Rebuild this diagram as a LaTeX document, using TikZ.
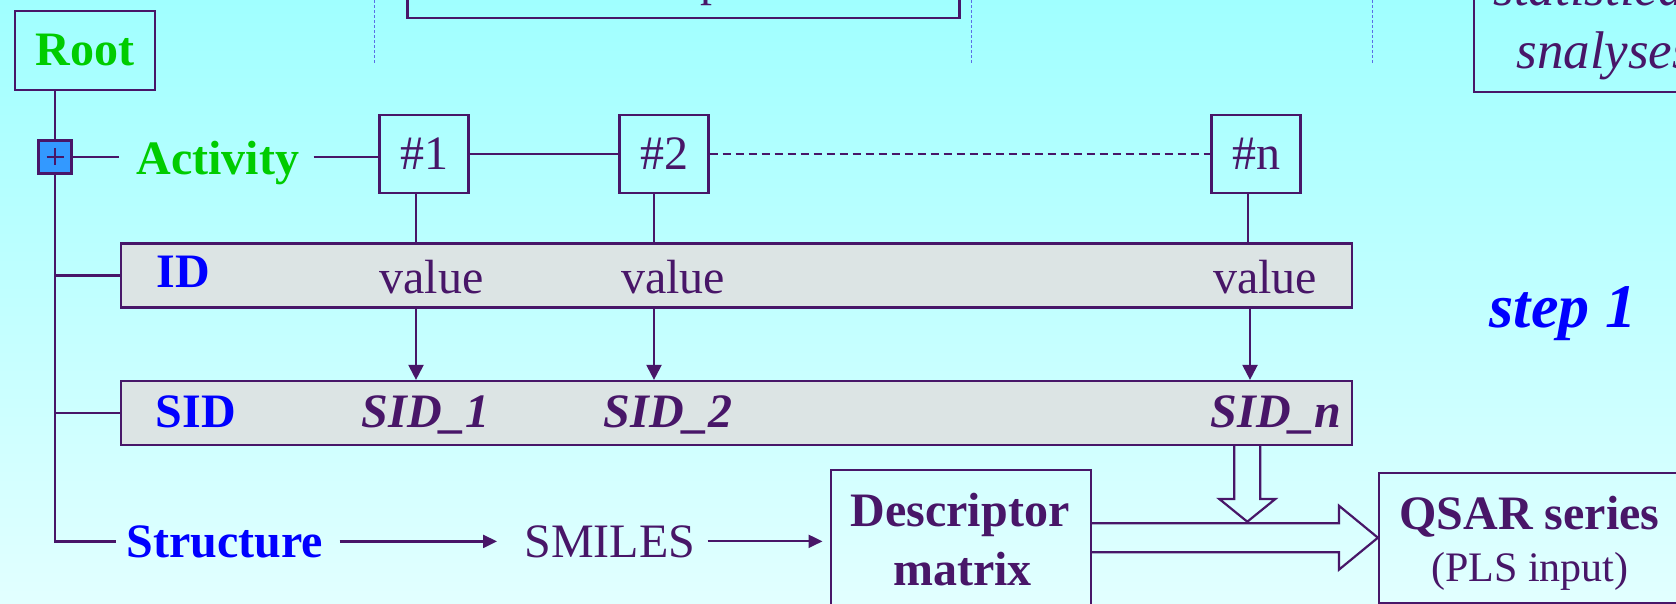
\documentclass[tikz,border=0pt]{standalone}
\usepackage{fontspec}
\setmainfont{Liberation Serif}
\usetikzlibrary{arrows.meta,calc}
\definecolor{lc}{RGB}{72,22,104}
\definecolor{grn}{RGB}{0,204,0}
\definecolor{blu}{RGB}{0,0,255}
\definecolor{barfill}{RGB}{220,228,228}
\definecolor{plusfill}{RGB}{51,153,255}
\definecolor{dotc}{RGB}{90,110,230}
\definecolor{bgtop}{RGB}{160,255,255}
\definecolor{bgbot}{RGB}{226,255,255}
\newcommand\fsz[1]{\fontsize{#1}{#1}\selectfont}
\tikzset{
  ln/.style={draw=lc, line width=1.1pt},
  box/.style={draw=lc, line width=1.1pt, inner sep=0pt},
  bar/.style={box, fill=barfill, minimum width=615.5pt, minimum height=32pt},
  numbox/.style={box, minimum width=44.5pt, minimum height=39pt, text=lc, font=\fsz{24}},
  lbl/.style={anchor=base, inner sep=0pt, font=\fsz{24}, text=lc},
  blbl/.style={lbl, font=\fsz{24}\bfseries},
  bilbl/.style={lbl, font=\fsz{24}\bfseries\itshape},
  arr/.style={ln, -{Triangle[width=7.5pt,length=7.5pt]}},
  sarr/.style={ln, -{Triangle[width=6.5pt,length=7pt]}},
  dotl/.style={draw=dotc, line width=0.5pt, dash pattern=on 1.5pt off 1pt},
  fat/.style={ln, line join=miter}
}
\begin{document}
\begin{tikzpicture}[x=0.5pt,y=-0.5pt]
\useasboundingbox (0,0) rectangle (1676,604);
\clip (0,0) rectangle (1676,604);
\shade[top color=bgtop, bottom color=bgbot] (0,0) rectangle (1676,604);

% partial elements at the top
\node[box, minimum width=276pt, minimum height=60pt] (topbox) at (683.5,-42.3) {};
\node[lbl, anchor=base west] (toptext) at (700,-4.4) {p};
\node[box, minimum width=150pt, minimum height=100pt] (rbox) at (1624,-8.3) {};
\node[lbl, anchor=base west, font=\fsz{26.5}\itshape] (stat) at (1493,6) {statistical};
\node[lbl, anchor=base west, font=\fsz{26.5}\itshape] (snal) at (1516,68.3) {snalyses};
\draw[dotl] (374,-5) -- (374,64);
\draw[dotl] (971,-5) -- (971,64);
\draw[dotl] (1372,-5) -- (1372,64);

% tree
\node[box, minimum width=70pt, minimum height=39.5pt, font=\fsz{24}\bfseries, text=grn] (root) at (85,50.5) {Root};
\node[box, fill=plusfill, minimum size=16.5pt] (plus) at (55,157) {};
\draw[lc, line width=0.8pt] ($(plus.center)+(-8.5,0)$) -- ($(plus.center)+(8.5,0)$);
\draw[lc, line width=0.8pt] ($(plus.center)+(0,-8.5)$) -- ($(plus.center)+(0,8.5)$);
\node[blbl, text=grn] (act) at (218,175) {Activity};
\node[numbox] (n1) at (424,154) {\#1};
\node[numbox] (n2) at (664,154) {\#2};
\node[numbox] (nn) at (1256,154) {\#n};

\node[bar] (idbar) at (736.5,275.5) {};
\node[bar] (sidbar) at (736.5,413) {};

\node[blbl, text=blu] (idlbl) at (183,288) {ID};
\node[lbl] (v1) at (431.5,293) {value};
\node[lbl] (v2) at (673,293) {value};
\node[lbl] (vn) at (1265,293) {value};

\node[blbl, text=blu] (sidlbl) at (196,427) {SID};
\node[bilbl] (s1) at (426,427) {SID\_1};
\node[bilbl] (s2) at (668,427) {SID\_2};
\node[bilbl] (sn) at (1276,427) {SID\_n};

\node[lbl, font=\fsz{31}\bfseries\itshape, text=blu] (step) at (1563,328) {step 1};

\node[blbl, text=blu] (struct) at (225,557) {Structure};
\node[lbl] (smiles) at (609.8,557) {SMILES};

\node[box, minimum width=130pt, minimum height=85pt] (desc) at (960.6,555) {};
\node[blbl] (dt1) at (960,526.7) {Descriptor};
\node[blbl] (dt2) at (962.6,585) {matrix};

\node[box, minimum width=170.5pt, minimum height=65pt] (qsar) at (1549.5,537.7) {};
\node[blbl] (qt1) at (1529.4,529.3) {QSAR series};
\node[lbl, font=\fsz{21}] (qt2) at (1530,581.7) {(PLS input)};

% connectors
\draw[ln] (plus.north |- root.south) -- (plus.north);
\draw[ln] (plus.south) -- (plus.south |- struct.west) -- ([xshift=-5pt]struct.west);
\draw[ln] (plus.south |- idbar.west) -- (idbar.west);
\draw[ln] (plus.south |- sidbar.west) -- (sidbar.west);
\draw[ln, shorten >=8.5pt] (plus.east) -- (plus.east -| act.west);
\draw[ln, shorten <=7pt] (act.east |- plus.east) -- (n1.west |- plus.east);
\draw[ln] (n1.east) -- (n2.west);
\draw[ln, dash pattern=on 4pt off 2.5pt] (n2.east) -- (nn.west);

\draw[ln] ([xshift=-4pt]n1.south) -- ([xshift=-4pt]n1.south |- idbar.north);
\draw[ln] ([xshift=-5pt]n2.south) -- ([xshift=-5pt]n2.south |- idbar.north);
\draw[ln] ([xshift=-4pt]nn.south) -- ([xshift=-4pt]nn.south |- idbar.north);
\draw[arr] ([xshift=-4pt]n1.south |- idbar.south) -- ([xshift=-4pt]n1.south |- sidbar.north);
\draw[arr] ([xshift=-5pt]n2.south |- idbar.south) -- ([xshift=-5pt]n2.south |- sidbar.north);
\draw[arr] ([xshift=-3pt]nn.south |- idbar.south) -- ([xshift=-3pt]nn.south |- sidbar.north);

\draw[sarr, shorten <=8pt, shorten >=13.5pt] (struct.east) -- (struct.east -| smiles.west);
\draw[sarr, shorten <=6pt, shorten >=3.5pt] (smiles.east) -- (smiles.east -| desc.west);

% fat arrows
\draw[fat] ($(desc.east |- qsar.west)+(0,-14.5)$) -- ($(qsar.west)+(-39,-14.5)$) -- ($(qsar.west)+(-39,-32)$)
  -- (qsar.west) -- ($(qsar.west)+(-39,32)$) -- ($(qsar.west)+(-39,14.5)$) -- ($(desc.east |- qsar.west)+(0,14.5)$);
\coordinate (dtip) at (1247.3,521.7);
\draw[fat] ($(sidbar.south -| dtip)+(-13,0)$) -- ($(dtip)+(-13,-22.7)$) -- ($(dtip)+(-28,-22.7)$)
  -- (dtip) -- ($(dtip)+(28,-22.7)$) -- ($(dtip)+(13,-22.7)$) -- ($(sidbar.south -| dtip)+(13,0)$);
\end{tikzpicture}
\end{document}
